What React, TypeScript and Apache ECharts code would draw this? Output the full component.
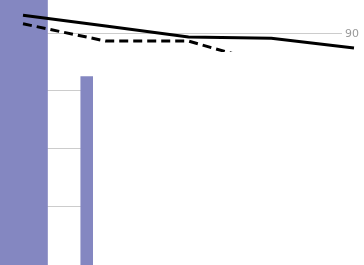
import React, { useEffect, useRef } from "react";
import * as echarts from "echarts";

const barCategories = ["1", "2", "3", "4"];
const barValues: (number | null)[] = [98, 82.5, null, null];
const lineCategories = ["1", "2", "3", "4", "5"];
const solidValues: (number | null)[] = [93.1, 91.2, 89.3, 89.1, 87.4];
const dashedValues: (number | null)[] = [91.6, 88.6, 88.6, 84.5, null];

export default function App() {
  const ref = useRef<HTMLDivElement>(null);
  useEffect(() => {
    if (!ref.current) return;
    const chart = echarts.init(ref.current, undefined, { renderer: "svg" });
    const hiddenX = {
      type: "category" as const,
      axisLine: { show: false },
      axisTick: { show: false },
      axisLabel: { show: false },
    };
    const hiddenY = {
      type: "value" as const,
      min: 40,
      max: 100,
      interval: 10,
      axisLine: { show: false },
      axisTick: { show: false },
      axisLabel: { show: false },
      splitLine: { show: false },
    };
    chart.setOption({
      animation: false,
      grid: [
        { left: -28.5, right: 22, top: -24.6, bottom: -56, outerBoundsMode: "none", containLabel: false },
        { left: 23, right: 10, top: -24.6, bottom: -56, outerBoundsMode: "none", containLabel: false },
        { left: -28.5, right: 22, top: -24.6, bottom: 1.6, outerBoundsMode: "none", containLabel: false },
      ],
      xAxis: [
        { ...hiddenX, gridIndex: 0, data: barCategories },
        { ...hiddenX, gridIndex: 1, boundaryGap: false, data: lineCategories },
        { ...hiddenX, gridIndex: 2, data: barCategories },
      ],
      yAxis: [
        { ...hiddenY, gridIndex: 0 },
        { ...hiddenY, gridIndex: 1 },
        {
          type: "value",
          gridIndex: 2,
          min: 50,
          max: 100,
          interval: 10,
          position: "right",
          axisLine: { show: false },
          axisTick: { show: false },
          axisLabel: {
            color: "#999",
            fontSize: 11,
            margin: 3,
            fontFamily: "DejaVu Sans",
            showMinLabel: false,
            showMaxLabel: false,
          },
          splitLine: {
            showMinLine: false,
            showMaxLine: false,
            lineStyle: { color: "#cccccc", width: 1 },
          },
        },
      ],
      series: [
        {
          type: "bar",
          xAxisIndex: 0,
          yAxisIndex: 0,
          data: barValues,
          barWidth: 60,
          itemStyle: { color: "#8487c1" },
        },
        {
          type: "line",
          xAxisIndex: 1,
          yAxisIndex: 1,
          data: solidValues,
          symbol: "none",
          lineStyle: { color: "#000", width: 3 },
        },
        {
          type: "line",
          xAxisIndex: 1,
          yAxisIndex: 1,
          data: dashedValues,
          symbol: "none",
          lineStyle: { color: "#000", width: 3, type: [9, 5] },
        },
      ],
      graphic: [
        {
          type: "rect",
          z: 100,
          shape: { x: 93, y: 52, width: 280, height: 220 },
          style: { fill: "#ffffff" },
        },
      ],
    });
    return () => chart.dispose();
  }, []);
  return (
    <div
      ref={ref}
      style={{ position: "fixed", left: 0, top: 0, width: 364, height: 265 }}
    />
  );
}
